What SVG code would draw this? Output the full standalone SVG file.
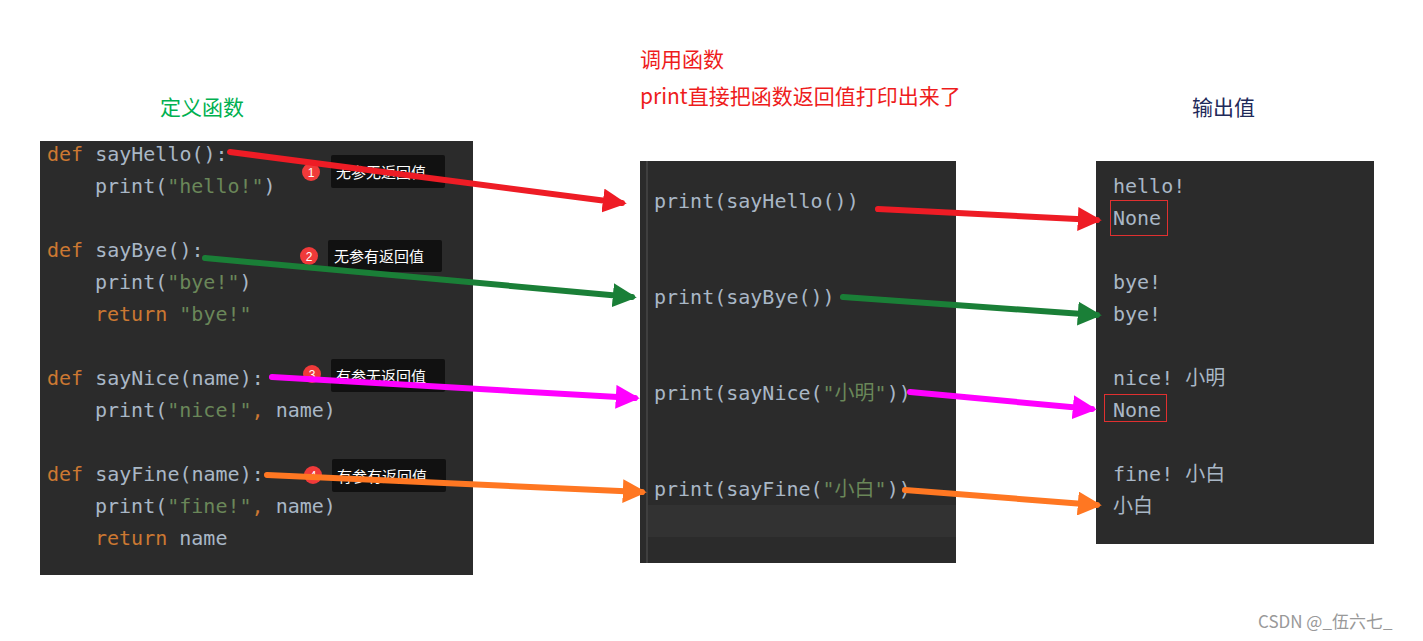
<svg xmlns="http://www.w3.org/2000/svg" width="1423" height="641" viewBox="0 0 1423 641">
<defs>
<style>
.c{font-family:"DejaVu Sans Mono","Liberation Mono","Noto Sans CJK SC",monospace;font-size:20px;fill:#a9b7c6}
.k{fill:#cc7832}.s{fill:#6a8759}
.t{font-family:"Noto Sans CJK SC",sans-serif;font-size:21px}
.tip{font-family:"Noto Sans CJK SC",sans-serif;font-size:15px;fill:#fff}
.a{fill:none;stroke-width:6;stroke-linecap:round}
</style>
<marker id="mr" viewBox="0 0 10 10" refX="8" refY="5" markerWidth="4" markerHeight="4" orient="auto"><path d="M0,0L10,5L0,10z" fill="#ee1c25"/></marker>
<marker id="mg" viewBox="0 0 10 10" refX="8" refY="5" markerWidth="4" markerHeight="4" orient="auto"><path d="M0,0L10,5L0,10z" fill="#1a7f37"/></marker>
<marker id="mm" viewBox="0 0 10 10" refX="8" refY="5" markerWidth="4" markerHeight="4" orient="auto"><path d="M0,0L10,5L0,10z" fill="#ff00ff"/></marker>
<marker id="mo" viewBox="0 0 10 10" refX="8" refY="5" markerWidth="4" markerHeight="4" orient="auto"><path d="M0,0L10,5L0,10z" fill="#ff7722"/></marker>
</defs>
<rect width="1423" height="641" fill="#fff"/>
<text class="t" x="160" y="115" fill="#00b050">定义函数</text>
<text class="t" x="640" y="67" fill="#ee1c1c">调用函数</text>
<text class="t" x="640" y="104" fill="#ee1c1c">print直接把函数返回值打印出来了</text>
<text class="t" x="1192" y="115" fill="#1f2a5a">输出值</text>
<text x="1258" y="628" font-family="Noto Sans CJK SC,sans-serif" font-size="17" fill="#999">CSDN @_伍六七_</text>

<g id="define">
<rect x="40" y="141" width="433" height="434" fill="#2b2b2b"/>
<text class="c" x="47" y="161"><tspan class="k">def</tspan> sayHello():</text>
<text class="c" x="95" y="193">print(<tspan class="s">"hello!"</tspan>)</text>
<text class="c" x="47" y="257"><tspan class="k">def</tspan> sayBye():</text>
<text class="c" x="95" y="289">print(<tspan class="s">"bye!"</tspan>)</text>
<text class="c" x="95" y="321"><tspan class="k">return</tspan> <tspan class="s">"bye!"</tspan></text>
<text class="c" x="47" y="385"><tspan class="k">def</tspan> sayNice(name):</text>
<text class="c" x="95" y="417">print(<tspan class="s">"nice!"</tspan><tspan class="k">,</tspan> name)</text>
<text class="c" x="47" y="481"><tspan class="k">def</tspan> sayFine(name):</text>
<text class="c" x="95" y="513">print(<tspan class="s">"fine!"</tspan><tspan class="k">,</tspan> name)</text>
<text class="c" x="95" y="545"><tspan class="k">return</tspan> name</text>
</g>

<g id="call">
<rect x="640" y="161" width="316" height="402" fill="#2b2b2b"/>
<rect x="648" y="505" width="308" height="32" fill="#323232"/>
<line x1="647" y1="161" x2="647" y2="563" stroke="#555" stroke-width="1"/>
<text class="c" x="654" y="208">print(sayHello())</text>
<text class="c" x="654" y="304">print(sayBye())</text>
<text class="c" x="654" y="400">print(sayNice(<tspan class="s">"小明"</tspan>))</text>
<text class="c" x="654" y="496">print(sayFine(<tspan class="s">"小白"</tspan>))</text>
</g>

<g id="output">
<rect x="1096" y="161" width="278" height="383" fill="#2b2b2b"/>
<text class="c" x="1113" y="193">hello!</text>
<text class="c" x="1113" y="225">None</text>
<rect x="1110.5" y="200.5" width="57" height="35" fill="none" stroke="#e03030"/>
<text class="c" x="1113" y="289">bye!</text>
<text class="c" x="1113" y="321">bye!</text>
<text class="c" x="1113" y="385">nice! 小明</text>
<text class="c" x="1113" y="417">None</text>
<rect x="1104.5" y="394.5" width="62" height="27" fill="none" stroke="#e03030"/>
<text class="c" x="1113" y="481">fine! 小白</text>
<text class="c" x="1113" y="513">小白</text>
</g>

<g id="tips">
<rect x="331" y="155" width="114" height="33" rx="2" fill="#111"/>
<circle cx="311" cy="172" r="9" fill="#f03a3a"/><text x="311" y="177" font-family="Liberation Sans,sans-serif" font-size="12" fill="#fff" text-anchor="middle">1</text>
<text class="tip" x="336" y="178">无参无返回值</text>
<rect x="328" y="240" width="114" height="32" rx="2" fill="#111"/>
<circle cx="309" cy="256" r="9" fill="#f03a3a"/><text x="309" y="261" font-family="Liberation Sans,sans-serif" font-size="12" fill="#fff" text-anchor="middle">2</text>
<text class="tip" x="334" y="262">无参有返回值</text>
<rect x="331" y="359" width="114" height="33" rx="2" fill="#111"/>
<circle cx="312" cy="374" r="9" fill="#f03a3a"/><text x="312" y="379" font-family="Liberation Sans,sans-serif" font-size="12" fill="#fff" text-anchor="middle">3</text>
<text class="tip" x="336" y="382">有参无返回值</text>
<rect x="332" y="459" width="114" height="33" rx="2" fill="#111"/>
<circle cx="313" cy="475" r="9" fill="#f03a3a"/><text x="313" y="480" font-family="Liberation Sans,sans-serif" font-size="12" fill="#fff" text-anchor="middle">4</text>
<text class="tip" x="337" y="482">有参有返回值</text>
</g>

<g id="connectors">
<line class="a" stroke="#ee1c25" marker-end="url(#mr)" x1="230" y1="152" x2="622" y2="203"/>
<line class="a" stroke="#ee1c25" marker-end="url(#mr)" x1="878" y1="209" x2="1097" y2="220"/>
<line class="a" stroke="#1a7f37" marker-end="url(#mg)" x1="205" y1="258" x2="632" y2="297"/>
<line class="a" stroke="#1a7f37" marker-end="url(#mg)" x1="843" y1="297" x2="1097" y2="315"/>
<line class="a" stroke="#ff00ff" marker-end="url(#mm)" x1="272" y1="377" x2="635" y2="398"/>
<line class="a" stroke="#ff00ff" marker-end="url(#mm)" x1="910" y1="392" x2="1092" y2="409"/>
<line class="a" stroke="#ff7722" marker-end="url(#mo)" x1="267" y1="475" x2="642" y2="492"/>
<line class="a" stroke="#ff7722" marker-end="url(#mo)" x1="905" y1="490" x2="1097" y2="505"/>
</g>
</svg>
